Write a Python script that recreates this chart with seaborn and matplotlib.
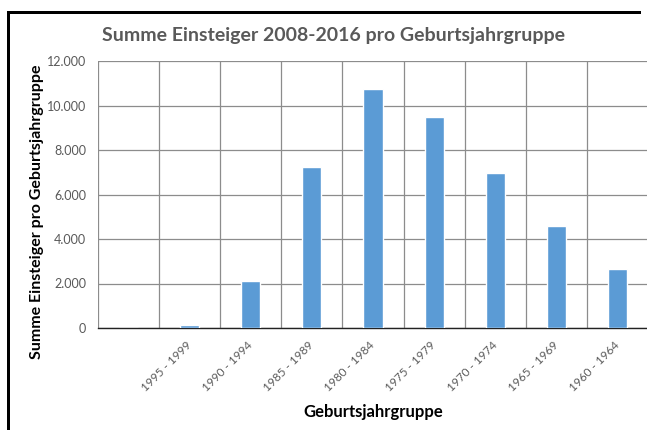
import matplotlib

matplotlib.use("Agg")
import matplotlib.pyplot as plt
import numpy as np
import pandas as pd
import seaborn as sns
from matplotlib.patches import Rectangle
from matplotlib.ticker import FuncFormatter, FixedLocator

# values
groups = ["", "1995 - 1999", "1990 - 1994", "1985 - 1989", "1980 - 1984",
          "1975 - 1979", "1970 - 1974", "1965 - 1969", "1960 - 1964"]
einsteiger = [0, 120, 2110, 7250, 10760, 9470, 6980, 4570, 2640]
y_ticks = [0, 2000, 4000, 6000, 8000, 10000, 12000]

TITLE = "Summe Einsteiger 2008-2016 pro Geburtsjahrgruppe"
X_LABEL = "Geburtsjahrgruppe"
Y_LABEL = "Summe Einsteiger pro Geburtsjahrgruppe"

BAR_COLOR = "#5B9BD5"
GRID_COLOR = "#8c8c8c"
TEXT_GRAY = "#595959"

sns.set_theme(style="white")
plt.rcParams["font.family"] = ["Lato", "DejaVu Sans"]

df = pd.DataFrame({"gruppe": [g if g else " " for g in groups], "summe": einsteiger})

fig = plt.figure(figsize=(6.47, 4.30), dpi=100)
ax = fig.add_axes([98 / 647, 102 / 430, 550 / 647, 267 / 430])

sns.barplot(data=df, x="gruppe", y="summe", color=BAR_COLOR, width=0.313,
            saturation=1, ax=ax, zorder=3)

ax.set_xlim(-0.5, len(groups) - 0.5)
ax.set_ylim(0, 12000)
ax.set_yticks(y_ticks)
ax.yaxis.set_major_formatter(FuncFormatter(lambda v, _: f"{int(v):,}".replace(",", ".")))
ax.xaxis.set_minor_locator(FixedLocator(np.arange(len(groups) + 1) - 0.5))
ax.grid(which="minor", axis="x", color=GRID_COLOR, lw=0.9, zorder=0)
ax.grid(which="major", axis="y", color=GRID_COLOR, lw=0.9, zorder=0)
ax.set_axisbelow(True)

ax.set_xticks(range(len(groups)))
ax.set_xticklabels(groups, rotation=45, ha="right", va="center",
                   rotation_mode="anchor", color=TEXT_GRAY, fontsize=8.5)
ax.tick_params(axis="x", which="both", length=0, pad=11)
ax.tick_params(axis="y", length=0, pad=8.6, labelcolor=TEXT_GRAY, labelsize=9)

for side in ["top", "right", "left"]:
    ax.spines[side].set_visible(False)
ax.spines["bottom"].set_color("#222222")
ax.spines["bottom"].set_linewidth(1.0)
ax.spines["bottom"].set_zorder(2)

ax.set_xlabel(X_LABEL, fontsize=12, fontweight="bold", color="black")
ax.set_ylabel(Y_LABEL, fontsize=11.5, fontweight="bold", color="black")
ax.xaxis.set_label_coords((373 - 98) / 550, -(404 - 328) / 267)
ax.yaxis.set_label_coords(-(98 - 44) / 550, (328 - 212) / 267)

fig.text(333 / 647, 1 - 36 / 430, TITLE, ha="center", va="center",
         fontsize=14, fontweight="bold", color=TEXT_GRAY)

# outer chart frame: only the left and top edges are inside the picture
fig.add_artist(Rectangle((7 / 647, 0), 3 / 647, 1 - 11 / 430, transform=fig.transFigure,
                         facecolor="black", edgecolor="none", lw=0))
fig.add_artist(Rectangle((7 / 647, 1 - 14 / 430), 634 / 647, 3 / 430,
                         transform=fig.transFigure,
                         facecolor="black", edgecolor="none", lw=0))

fig.savefig("out.png", dpi=100)
